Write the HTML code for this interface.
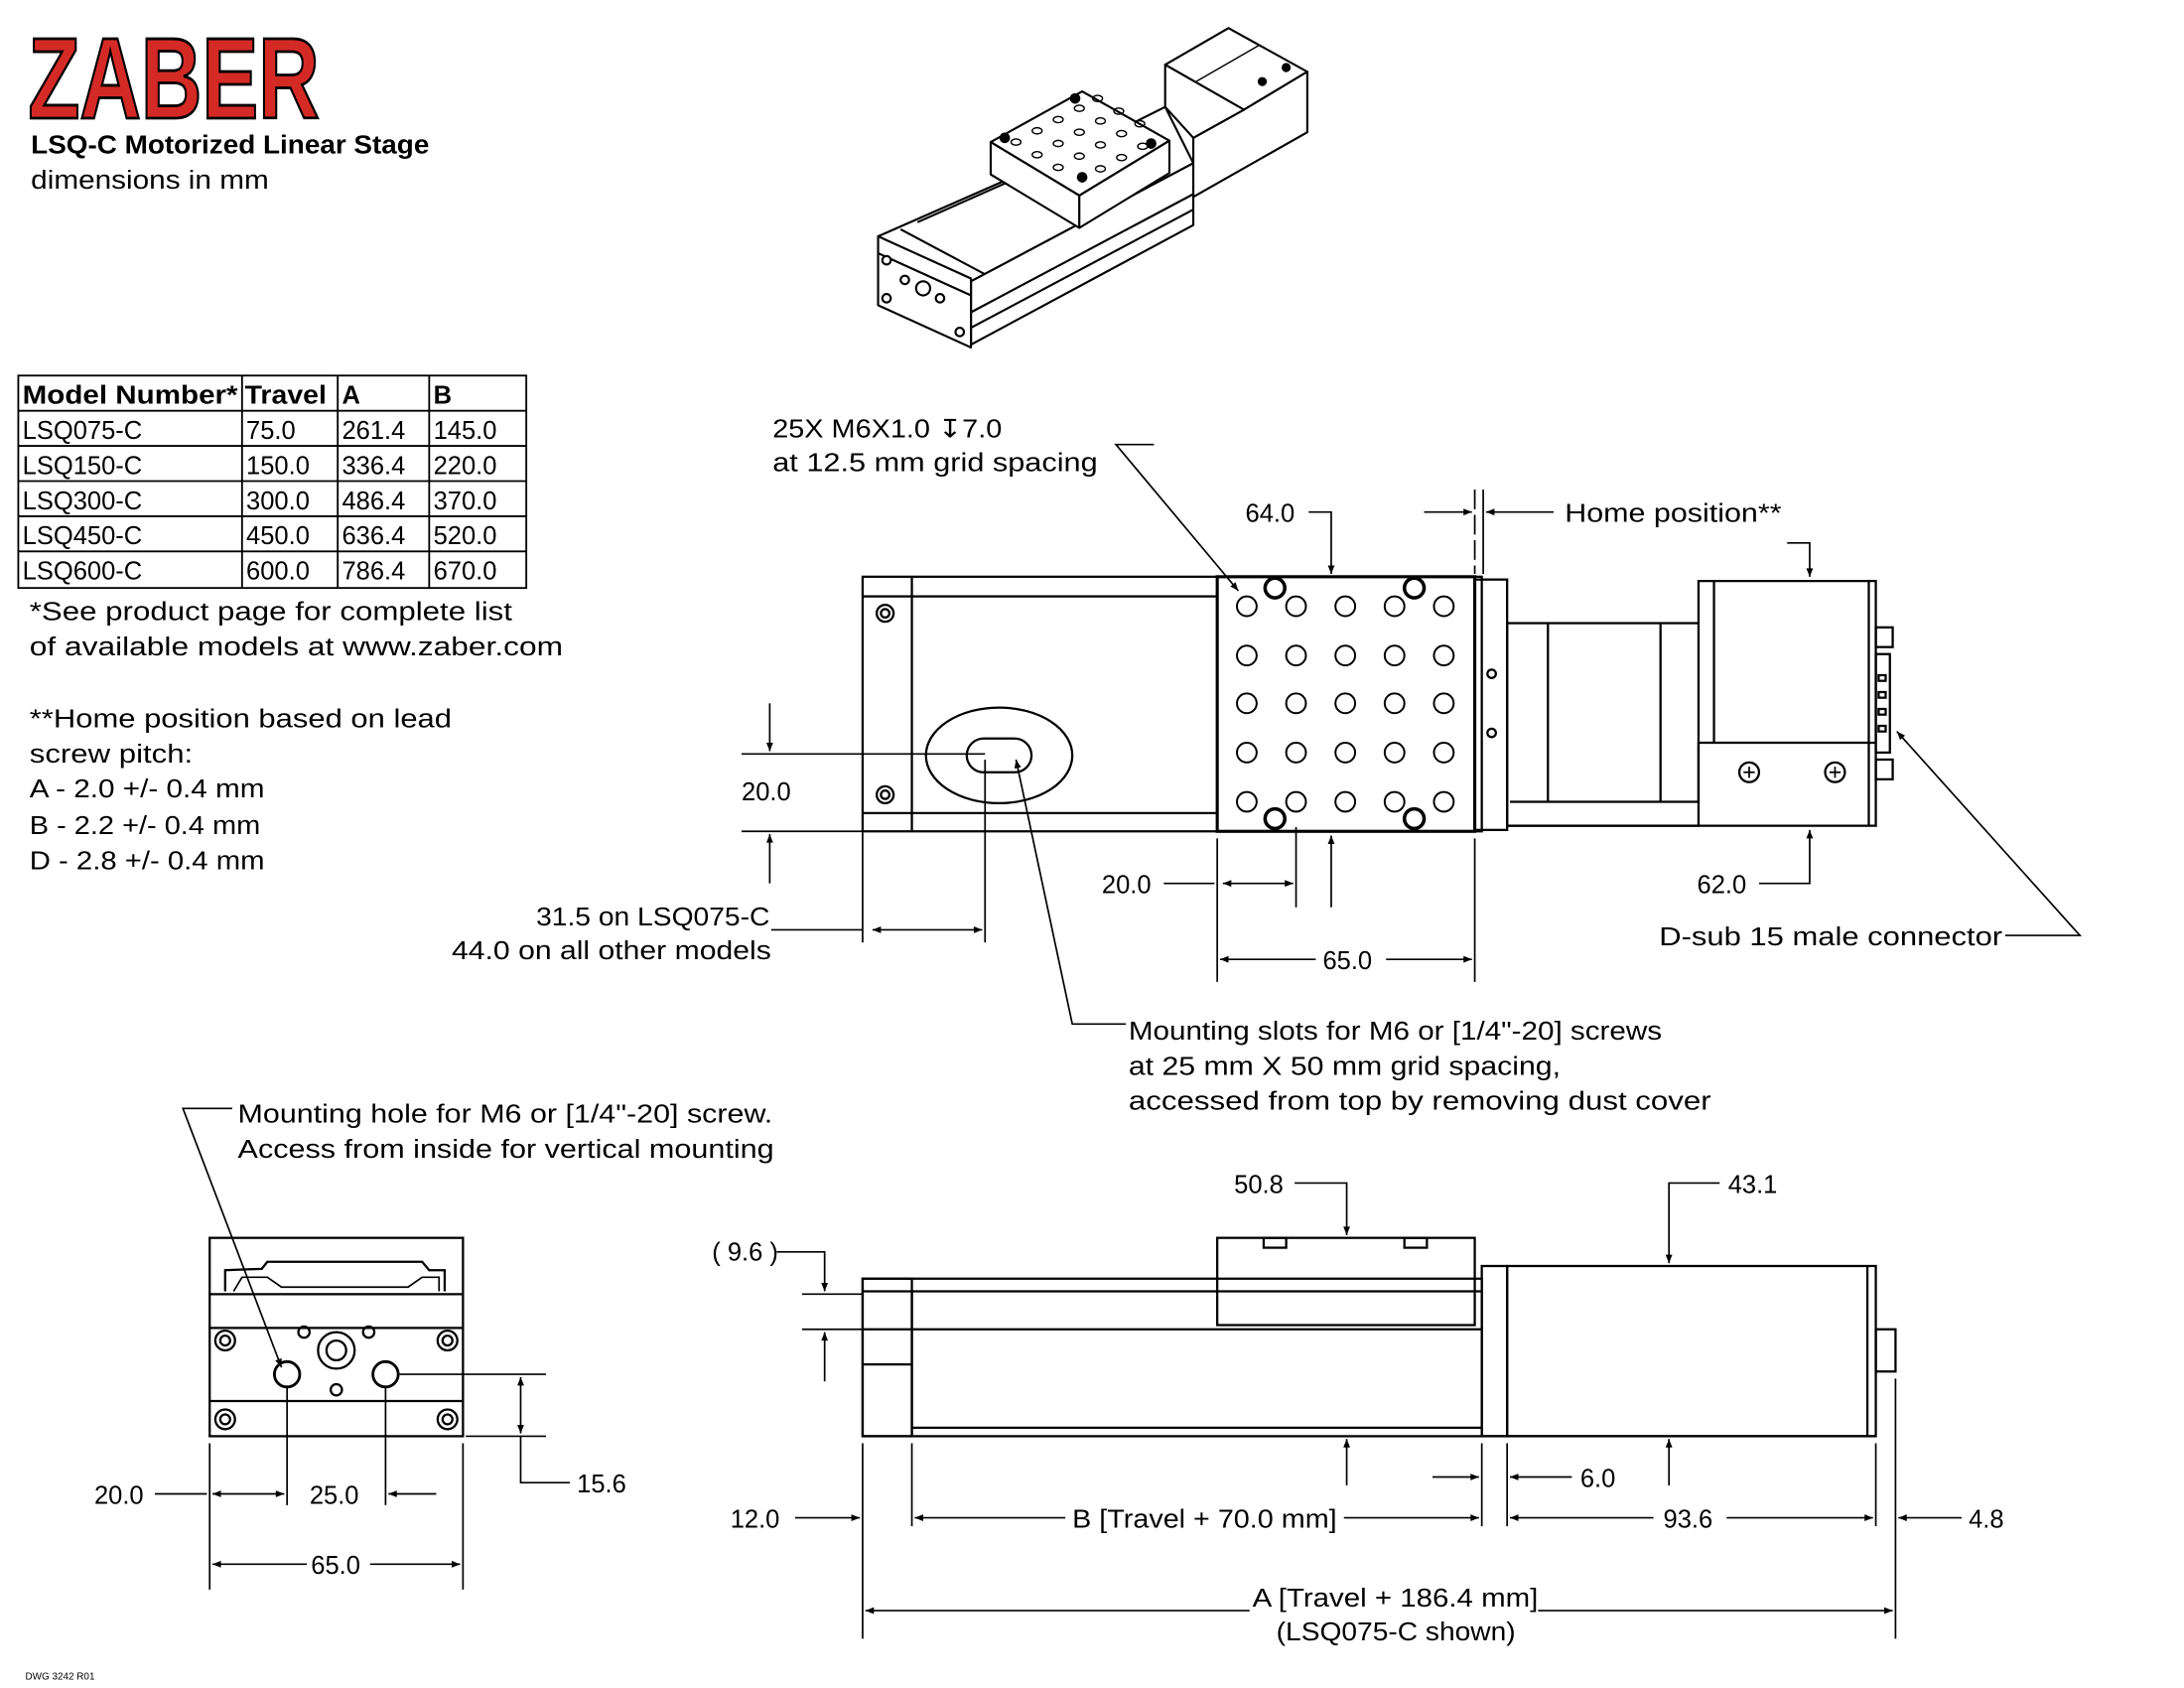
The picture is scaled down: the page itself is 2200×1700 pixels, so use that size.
<!DOCTYPE html>
<html><head><meta charset="utf-8"><style>
html,body{margin:0;padding:0;background:#fff;}
svg{display:block;}
text{font-family:"Liberation Sans",sans-serif;fill:#000;}
.t text{letter-spacing:1.1px;}
</style></head><body>
<svg width="2200" height="1700" viewBox="0 0 1552 1200" preserveAspectRatio="none" xmlns="http://www.w3.org/2000/svg">
<defs>
<marker id="a" viewBox="0 0 10 10" refX="10" refY="5" markerWidth="9" markerHeight="6" orient="auto-start-reverse" markerUnits="userSpaceOnUse"><path d="M0,1 L10,5 L0,9 z" fill="#000"/></marker>
</defs>
<rect width="1552" height="1200" fill="#fff"/>
<!-- logo -->
<text x="20" y="84" font-size="82" font-weight="bold" stroke="#000" stroke-width="2" textLength="207" lengthAdjust="spacingAndGlyphs" style="fill:#d42a26">ZABER</text>
<text x="22" y="109" font-size="18" font-weight="bold" textLength="283" lengthAdjust="spacingAndGlyphs">LSQ-C Motorized Linear Stage</text>
<text x="22" y="134" font-size="18" textLength="169" lengthAdjust="spacingAndGlyphs">dimensions in mm</text>

<!-- table -->
<g stroke="#000" stroke-width="1.3" fill="none">
<rect x="13" y="267" width="361" height="151"/>
<line x1="13" y1="292" x2="374" y2="292"/><line x1="13" y1="317" x2="374" y2="317"/>
<line x1="13" y1="342" x2="374" y2="342"/><line x1="13" y1="367" x2="374" y2="367"/>
<line x1="13" y1="392" x2="374" y2="392"/>
<line x1="172" y1="267" x2="172" y2="418"/><line x1="240" y1="267" x2="240" y2="418"/><line x1="305" y1="267" x2="305" y2="418"/>
</g>
<g font-size="18">
<text x="16" y="287" font-weight="bold" textLength="153" lengthAdjust="spacingAndGlyphs">Model Number*</text><text x="174" y="287" font-weight="bold" textLength="58" lengthAdjust="spacingAndGlyphs">Travel</text><text x="243" y="287" font-weight="bold">A</text><text x="308" y="287" font-weight="bold">B</text>
<text x="16" y="312">LSQ075-C</text><text x="175" y="312">75.0</text><text x="243" y="312">261.4</text><text x="308" y="312">145.0</text>
<text x="16" y="337">LSQ150-C</text><text x="175" y="337">150.0</text><text x="243" y="337">336.4</text><text x="308" y="337">220.0</text>
<text x="16" y="362">LSQ300-C</text><text x="175" y="362">300.0</text><text x="243" y="362">486.4</text><text x="308" y="362">370.0</text>
<text x="16" y="387">LSQ450-C</text><text x="175" y="387">450.0</text><text x="243" y="387">636.4</text><text x="308" y="387">520.0</text>
<text x="16" y="412">LSQ600-C</text><text x="175" y="412">600.0</text><text x="243" y="412">786.4</text><text x="308" y="412">670.0</text>
<text x="21" y="441" textLength="343" lengthAdjust="spacingAndGlyphs">*See product page for complete list</text>
<text x="21" y="466" textLength="379" lengthAdjust="spacingAndGlyphs">of available models at www.zaber.com</text>
<text x="21" y="517" textLength="300" lengthAdjust="spacingAndGlyphs">**Home position based on lead</text>
<text x="21" y="542" textLength="116" lengthAdjust="spacingAndGlyphs">screw pitch:</text>
<text x="21" y="567" textLength="167" lengthAdjust="spacingAndGlyphs">A - 2.0 +/- 0.4 mm</text>
<text x="21" y="593" textLength="164" lengthAdjust="spacingAndGlyphs">B - 2.2 +/- 0.4 mm</text>
<text x="21" y="618" textLength="167" lengthAdjust="spacingAndGlyphs">D - 2.8 +/- 0.4 mm</text>
</g>
<text x="18" y="1194" font-size="7">DWG 3242 R01</text>

<!-- isometric -->
<g stroke="#000" stroke-width="1.5" fill="#fff" stroke-linejoin="round">
<!-- body top face -->
<polygon points="624,168 690,200 848,116 828,76 790,95"/>
<polyline points="640,163 700,195 848,118" fill="none"/>
<polyline points="652,158 760,110" fill="none"/>
<!-- body side face -->
<polygon points="690,200 848,116 848,160 690,245"/>
<line x1="690" y1="222" x2="848" y2="138"/><line x1="690" y1="233" x2="848" y2="149"/>
<!-- motor -->
<polygon points="828,46 873,20 929,51 884,78"/>
<polygon points="884,78 929,51 929,94 848,140 848,98"/>
<polygon points="828,46 884,78 848,98 828,76"/>
<line x1="850" y1="58" x2="895" y2="32" stroke-width="1"/>
<circle cx="914" cy="48" r="2.5" fill="#000"/><circle cx="897" cy="58" r="2.5" fill="#000"/>
<!-- front block -->
<polygon points="624,168 690,198 690,247 624,217"/>
<line x1="624" y1="180" x2="690" y2="210"/>
<circle cx="656" cy="205" r="5"/><circle cx="643" cy="199" r="3"/><circle cx="668" cy="212" r="3"/><circle cx="630" cy="185" r="3"/><circle cx="630" cy="212" r="3"/><circle cx="682" cy="236" r="3"/>
<!-- carriage -->
<polygon points="704,101 769,65 831,100 767,139"/>
<polygon points="704,101 767,139 767,162 704,124"/>
<polygon points="767,139 831,100 831,123 767,162"/>
<circle cx="764" cy="70" r="3" fill="#000"/><circle cx="714" cy="98" r="3" fill="#000"/><circle cx="818" cy="102" r="3" fill="#000"/><circle cx="769" cy="126" r="3" fill="#000"/>
</g>
<g fill="none" stroke="#000" stroke-width="1">
<ellipse cx="722" cy="101" rx="3.5" ry="2.2"/><ellipse cx="737" cy="93" rx="3.5" ry="2.2"/><ellipse cx="752" cy="85" rx="3.5" ry="2.2"/><ellipse cx="767" cy="77" rx="3.5" ry="2.2"/><ellipse cx="780" cy="70" rx="3.5" ry="2.2"/>
<ellipse cx="737" cy="110" rx="3.5" ry="2.2"/><ellipse cx="752" cy="102" rx="3.5" ry="2.2"/><ellipse cx="767" cy="94" rx="3.5" ry="2.2"/><ellipse cx="782" cy="86" rx="3.5" ry="2.2"/><ellipse cx="795" cy="79" rx="3.5" ry="2.2"/>
<ellipse cx="752" cy="119" rx="3.5" ry="2.2"/><ellipse cx="767" cy="111" rx="3.5" ry="2.2"/><ellipse cx="782" cy="103" rx="3.5" ry="2.2"/><ellipse cx="797" cy="95" rx="3.5" ry="2.2"/><ellipse cx="810" cy="88" rx="3.5" ry="2.2"/>
<ellipse cx="782" cy="120" rx="3.5" ry="2.2"/><ellipse cx="797" cy="112" rx="3.5" ry="2.2"/><ellipse cx="812" cy="104" rx="3.5" ry="2.2"/>
</g>

<!-- top view -->
<g stroke="#000" stroke-width="1.6" fill="none">
<rect x="613" y="410" width="440" height="181"/>
<line x1="648" y1="410" x2="648" y2="591"/>
<line x1="613" y1="424" x2="865" y2="424"/><line x1="613" y1="578" x2="865" y2="578"/>
<circle cx="629" cy="436" r="6"/><circle cx="629" cy="436" r="3"/>
<circle cx="629" cy="565" r="6"/><circle cx="629" cy="565" r="3"/>
<ellipse cx="710" cy="537" rx="52" ry="34"/>
<rect x="687" y="525" width="46" height="24" rx="12"/>
<rect x="865" y="410" width="183" height="181" stroke-width="2.2"/>
<rect x="1048" y="412" width="23" height="178"/>
<rect x="1071" y="443" width="136" height="144"/>
<line x1="1100" y1="443" x2="1100" y2="570"/><line x1="1180" y1="443" x2="1180" y2="570"/>
<path d="M1073,570 L1207,570 L1207,528 L1333,528 M1207,443 L1207,413 L1333,413 L1333,587 L1071,587"/>
<line x1="1218" y1="413" x2="1218" y2="528"/><line x1="1328" y1="413" x2="1328" y2="587"/>
<rect x="1333" y="446" width="12" height="14"/><rect x="1333" y="540" width="12" height="14"/>
<rect x="1333" y="465" width="10" height="70"/>
<rect x="1335" y="480" width="5" height="4"/><rect x="1335" y="492" width="5" height="4"/><rect x="1335" y="504" width="5" height="4"/><rect x="1335" y="516" width="5" height="4"/>
<circle cx="1243" cy="549" r="7"/><circle cx="1304" cy="549" r="7"/>
<path d="M1239,549 h8 M1243,545 v8 M1300,549 h8 M1304,545 v8" stroke-width="1.2"/>
<circle cx="1060" cy="479" r="3"/><circle cx="1060" cy="521" r="3"/>
</g>
<g stroke="#000" stroke-width="1.4" fill="none">
<g id="row"><circle cx="886" cy="431" r="7"/><circle cx="921" cy="431" r="7"/><circle cx="956" cy="431" r="7"/><circle cx="991" cy="431" r="7"/><circle cx="1026" cy="431" r="7"/></g>
<use href="#row" y="35"/><use href="#row" y="69"/><use href="#row" y="104"/><use href="#row" y="139"/>
<circle cx="906" cy="418" r="7" stroke-width="2.5"/><circle cx="1005" cy="418" r="7" stroke-width="2.5"/>
<circle cx="906" cy="582" r="7" stroke-width="2.5"/><circle cx="1005" cy="582" r="7" stroke-width="2.5"/>
</g>

<!-- top view dims -->
<g stroke="#000" stroke-width="1.2" fill="none">
<path d="M820,316 L793,316 L880,420" marker-end="url(#a)"/>
<path d="M930,364 L946,364 L946,408" marker-end="url(#a)"/>
<line x1="1048" y1="348" x2="1048" y2="408" stroke-dasharray="14,4"/><line x1="1054" y1="348" x2="1054" y2="408"/>
<line x1="1012" y1="364" x2="1046" y2="364" marker-end="url(#a)"/>
<line x1="1104" y1="364" x2="1056" y2="364" marker-end="url(#a)"/>
<path d="M1270,386 L1286,386 L1286,410" marker-end="url(#a)"/>
<line x1="527" y1="536" x2="700" y2="536"/><line x1="527" y1="591" x2="613" y2="591"/>
<line x1="547" y1="500" x2="547" y2="534" marker-end="url(#a)"/>
<line x1="547" y1="628" x2="547" y2="593" marker-end="url(#a)"/>
<line x1="613" y1="591" x2="613" y2="670"/><line x1="700" y1="540" x2="700" y2="670"/>
<line x1="548" y1="661" x2="613" y2="661"/>
<line x1="620" y1="661" x2="698" y2="661" marker-start="url(#a)" marker-end="url(#a)"/>
<path d="M722,540 L762,728 L800,728" marker-start="url(#a)"/>
<line x1="865" y1="596" x2="865" y2="698"/><line x1="921" y1="588" x2="921" y2="645"/><line x1="1048" y1="596" x2="1048" y2="698"/>
<line x1="827" y1="628" x2="863" y2="628"/>
<line x1="869" y1="628" x2="919" y2="628" marker-start="url(#a)" marker-end="url(#a)"/>
<line x1="946" y1="645" x2="946" y2="594" marker-end="url(#a)"/>
<line x1="867" y1="682" x2="935" y2="682" marker-start="url(#a)"/><line x1="985" y1="682" x2="1046" y2="682" marker-end="url(#a)"/>
<path d="M1250,628 L1286,628 L1286,590" marker-end="url(#a)"/>
<path d="M1425,665 L1478,665 L1348,520" marker-end="url(#a)"/>
</g>
<g font-size="18">
<text x="549" y="311" textLength="163" lengthAdjust="spacingAndGlyphs">25X M6X1.0 ↧7.0</text>
<text x="549" y="335" textLength="231" lengthAdjust="spacingAndGlyphs">at 12.5 mm grid spacing</text>
<text x="885" y="371">64.0</text>
<text x="1112" y="371" textLength="154" lengthAdjust="spacingAndGlyphs">Home position**</text>
<text x="527" y="569">20.0</text>
<text x="381" y="658" textLength="166" lengthAdjust="spacingAndGlyphs">31.5 on LSQ075-C</text>
<text x="321" y="682" textLength="227" lengthAdjust="spacingAndGlyphs">44.0 on all other models</text>
<text x="783" y="635">20.0</text>
<text x="940" y="689">65.0</text>
<text x="1206" y="635">62.0</text>
<text x="1179" y="672" textLength="244" lengthAdjust="spacingAndGlyphs">D-sub 15 male connector</text>
<text x="802" y="739" textLength="379" lengthAdjust="spacingAndGlyphs">Mounting slots for M6 or [1/4"-20] screws</text>
<text x="802" y="764" textLength="307" lengthAdjust="spacingAndGlyphs">at 25 mm X 50 mm grid spacing,</text>
<text x="802" y="789" textLength="414" lengthAdjust="spacingAndGlyphs">accessed from top by removing dust cover</text>
<text x="169" y="798" textLength="380" lengthAdjust="spacingAndGlyphs">Mounting hole for M6 or [1/4"-20] screw.</text>
<text x="169" y="823" textLength="381" lengthAdjust="spacingAndGlyphs">Access from inside for vertical mounting</text>
</g>

<!-- end view -->
<g stroke="#000" stroke-width="1.6" fill="none">
<rect x="149" y="880" width="180" height="141"/>
<line x1="149" y1="920" x2="329" y2="920"/><line x1="149" y1="944" x2="329" y2="944"/><line x1="149" y1="996" x2="329" y2="996"/>
<path d="M160,918 L160,903 L186,902 L190,897 L300,897 L305,903 L316,903 L316,918"/>
<path d="M166,918 L172,908 L190,908 L200,915 L290,915 L300,908 L312,908 L312,918" stroke-width="1.2"/>
<circle cx="160" cy="953" r="7"/><circle cx="318" cy="953" r="7"/><circle cx="160" cy="1009" r="7"/><circle cx="318" cy="1009" r="7"/>
<circle cx="160" cy="953" r="3.5"/><circle cx="318" cy="953" r="3.5"/><circle cx="160" cy="1009" r="3.5"/><circle cx="318" cy="1009" r="3.5"/>
<circle cx="239" cy="960" r="13"/><circle cx="239" cy="960" r="7"/>
<circle cx="216" cy="947" r="4"/><circle cx="262" cy="947" r="4"/><circle cx="239" cy="988" r="4"/>
<circle cx="204" cy="977" r="9" stroke-width="2"/><circle cx="274" cy="977" r="9" stroke-width="2"/>
</g>
<g stroke="#000" stroke-width="1.2" fill="none">
<path d="M165,788 L130,788 L200,972" marker-end="url(#a)"/>
<line x1="149" y1="1026" x2="149" y2="1130"/><line x1="329" y1="1026" x2="329" y2="1130"/>
<line x1="204" y1="985" x2="204" y2="1070"/><line x1="274" y1="985" x2="274" y2="1070"/>
<line x1="110" y1="1062" x2="147" y2="1062"/>
<line x1="151" y1="1062" x2="202" y2="1062" marker-start="url(#a)" marker-end="url(#a)"/>
<line x1="310" y1="1062" x2="276" y2="1062" marker-end="url(#a)"/>
<line x1="151" y1="1112" x2="218" y2="1112" marker-start="url(#a)"/><line x1="263" y1="1112" x2="327" y2="1112" marker-end="url(#a)"/>
<line x1="284" y1="977" x2="388" y2="977"/><line x1="331" y1="1021" x2="388" y2="1021"/>
<path d="M370,979 L370,1019" marker-start="url(#a)" marker-end="url(#a)"/>
<path d="M370,1021 L370,1054 L405,1054"/>
</g>
<g font-size="18">
<text x="67" y="1069">20.0</text><text x="220" y="1069">25.0</text><text x="221" y="1119">65.0</text><text x="410" y="1061">15.6</text>
</g>

<!-- side view -->
<g stroke="#000" stroke-width="1.6" fill="none">
<rect x="613" y="909" width="440" height="112"/>
<line x1="613" y1="918" x2="1053" y2="918"/><line x1="648" y1="918" x2="648" y2="1021"/>
<line x1="648" y1="945" x2="1053" y2="945"/><line x1="648" y1="1015" x2="1053" y2="1015"/>
<rect x="613" y="909" width="35" height="112"/>
<line x1="613" y1="945" x2="648" y2="945"/><line x1="613" y1="970" x2="648" y2="970"/>
<rect x="865" y="880" width="183" height="62"/>
<rect x="898" y="880" width="16" height="7"/><rect x="998" y="880" width="16" height="7"/>
<rect x="1053" y="900" width="18" height="121"/>
<rect x="1071" y="900" width="262" height="121"/>
<rect x="1333" y="945" width="14" height="30"/>
<line x1="1327" y1="900" x2="1327" y2="1021"/>
<line x1="1053" y1="1021" x2="1333" y2="1021"/>
</g>
<g stroke="#000" stroke-width="1.2" fill="none">
<path d="M552,890 L586,890 L586,918" marker-end="url(#a)"/>
<line x1="570" y1="920" x2="613" y2="920"/><line x1="570" y1="945" x2="613" y2="945"/>
<line x1="586" y1="982" x2="586" y2="947" marker-end="url(#a)"/>
<path d="M920,841 L957,841 L957,878" marker-end="url(#a)"/>
<path d="M1222,841 L1186,841 L1186,898" marker-end="url(#a)"/>
<line x1="613" y1="1026" x2="613" y2="1165"/><line x1="648" y1="1026" x2="648" y2="1085"/>
<line x1="1053" y1="1026" x2="1053" y2="1085"/><line x1="1071" y1="1026" x2="1071" y2="1085"/>
<line x1="1333" y1="1026" x2="1333" y2="1085"/><line x1="1347" y1="980" x2="1347" y2="1165"/>
<line x1="565" y1="1079" x2="611" y2="1079" marker-end="url(#a)"/>
<line x1="650" y1="1079" x2="757" y2="1079" marker-start="url(#a)"/><line x1="955" y1="1079" x2="1051" y2="1079" marker-end="url(#a)"/>
<line x1="1073" y1="1079" x2="1175" y2="1079" marker-start="url(#a)"/><line x1="1227" y1="1079" x2="1331" y2="1079" marker-end="url(#a)"/>
<line x1="1394" y1="1079" x2="1349" y2="1079" marker-end="url(#a)"/>
<line x1="957" y1="1056" x2="957" y2="1023" marker-end="url(#a)"/>
<line x1="1186" y1="1056" x2="1186" y2="1023" marker-end="url(#a)"/>
<line x1="1018" y1="1050" x2="1051" y2="1050" marker-end="url(#a)"/>
<line x1="1117" y1="1050" x2="1073" y2="1050" marker-end="url(#a)"/>
<line x1="615" y1="1145" x2="888" y2="1145" marker-start="url(#a)"/><line x1="1093" y1="1145" x2="1345" y2="1145" marker-end="url(#a)"/>
</g>
<g font-size="18">
<text x="506" y="896">( 9.6 )</text>
<text x="877" y="848">50.8</text><text x="1228" y="848">43.1</text>
<text x="519" y="1086">12.0</text>
<text x="762" y="1086" textLength="188" lengthAdjust="spacingAndGlyphs">B [Travel + 70.0 mm]</text>
<text x="1123" y="1057">6.0</text>
<text x="1182" y="1086">93.6</text>
<text x="1399" y="1086">4.8</text>
<text x="890" y="1142" textLength="203" lengthAdjust="spacingAndGlyphs">A [Travel + 186.4 mm]</text>
<text x="907" y="1166" textLength="170" lengthAdjust="spacingAndGlyphs">(LSQ075-C shown)</text>
</g>
</svg>
</body></html>
